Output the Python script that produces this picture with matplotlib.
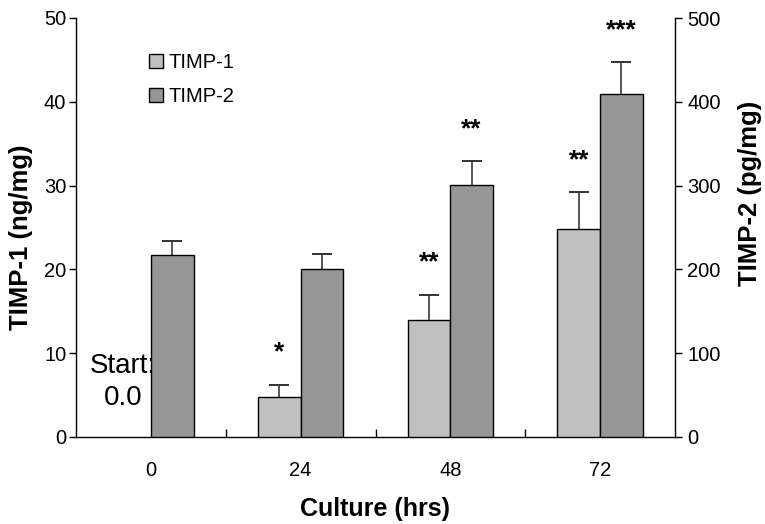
import matplotlib
matplotlib.use("Agg")
import matplotlib.pyplot as plt
import numpy as np
from matplotlib.patches import Patch

plt.rcParams['font.family'] = ['Liberation Sans', 'DejaVu Sans']

# ---- data ----
categories = ["0", "24", "48", "72"]
timp1 = [0.0, 4.75, 14.0, 24.8]          # ng/mg (left axis)
timp1_err = [0.0, 1.5, 3.0, 4.4]
timp2 = [217, 201, 301, 409]             # pg/mg (right axis)
timp2_err = [17, 17, 28, 38]
timp1_stars = ["", "*", "**", "**"]
timp2_stars = ["", "", "**", "***"]
series_names = ["TIMP-1", "TIMP-2"]
left_ticks = [0, 10, 20, 30, 40, 50]
right_ticks = [0, 100, 200, 300, 400, 500]

c1 = "#c0c0c0"
c2 = "#969696"

W, H = 765, 524
fig = plt.figure(figsize=(W / 100, H / 100), dpi=100)
L, R, B, T = 76, 675, 437, 18
ax = fig.add_axes([L / W, 1 - B / H, (R - L) / W, (B - T) / H])
ax2 = ax.twinx()

x = np.arange(len(categories))
bw = 0.285
ax.set_xlim(-0.5, len(categories) - 0.5)
ax.set_ylim(0, 50)
ax2.set_ylim(0, 500)

ecol = "#555555"


def up_errors(a, xs, vals, errs):
    xs = np.asarray(xs, float)
    vals = np.asarray(vals, float)
    errs = np.asarray(errs, float)
    m = errs > 0
    a.vlines(xs[m], vals[m], vals[m] + errs[m], colors=ecol, linewidth=1.4, zorder=2)
    a.plot(xs[m], vals[m] + errs[m], linestyle="none", marker="_", markersize=15,
           markeredgewidth=1.4, color="#333333", zorder=2)


b1 = ax.bar(x - bw / 2, timp1, bw, color=c1, edgecolor="black", linewidth=1.0, zorder=3)
for rect, v in zip(b1, timp1):
    if v == 0:
        rect.set_visible(False)
up_errors(ax, x - bw / 2, timp1, timp1_err)
ax2.bar(x + bw / 2, timp2, bw, color=c2, edgecolor="black", linewidth=1.0, zorder=3)
up_errors(ax2, x + bw / 2, timp2, timp2_err)

# significance stars
star_kw = dict(ha="center", va="center", fontsize=19, fontweight="bold")
for i in range(len(categories)):
    if timp1_stars[i]:
        ax.text(x[i] - bw / 2, timp1[i] + timp1_err[i] + 3.8, timp1_stars[i], **star_kw)
    if timp2_stars[i]:
        ax2.text(x[i] + bw / 2, timp2[i] + timp2_err[i] + 38, timp2_stars[i], **star_kw)

# Start annotation
ax.text(-0.187, 6.6, "Start:\n0.0", ha="center", va="center", fontsize=20,
        linespacing=1.3)

# spines & ticks
for a in (ax, ax2):
    a.spines["top"].set_visible(False)
ax.spines["right"].set_visible(False)
ax2.spines["left"].set_visible(False)
ax2.spines["bottom"].set_visible(False)
for s in ("left", "bottom"):
    ax.spines[s].set_linewidth(1.0)
ax2.spines["right"].set_linewidth(1.0)

ax.set_yticks(left_ticks)
ax2.set_yticks(right_ticks)
ax.tick_params(axis="y", direction="out", length=5, width=1.0, labelsize=14.5, pad=2)
ax2.tick_params(axis="y", direction="out", length=5, width=1.0, labelsize=14.5, pad=4)
ax.set_xticks(x)
ax.set_xticklabels(categories)
ax.tick_params(axis="x", length=0, labelsize=14.5, pad=17)
ax.set_xticks(x[:-1] + 0.5, minor=True)
ax.tick_params(axis="x", which="minor", direction="in", length=6, width=1.0)

fig.text(21 / W, 1 - 237 / H, "TIMP-1 (ng/mg)", rotation=90, ha="center", va="center",
         fontsize=18.5, fontweight="bold")
fig.text(750 / W, 1 - 193 / H, "TIMP-2 (pg/mg)", rotation=90, ha="center", va="center",
         fontsize=18.5, fontweight="bold")
fig.text(375 / W, 1 - 509 / H, "Culture (hrs)", ha="center", va="center",
         fontsize=18, fontweight="bold")

handles = [Patch(facecolor=c1, edgecolor="black", linewidth=1.0),
           Patch(facecolor=c2, edgecolor="black", linewidth=1.0)]
leg = ax.legend(handles, series_names, loc="upper left",
                bbox_to_anchor=(149 / W, 1 - 53 / H), bbox_transform=fig.transFigure,
                frameon=False, fontsize=14.5, handlelength=0.7, handleheight=0.7,
                handletextpad=0.25, labelspacing=0.75, borderpad=0, borderaxespad=0)

fig.savefig("out.png", dpi=100)
